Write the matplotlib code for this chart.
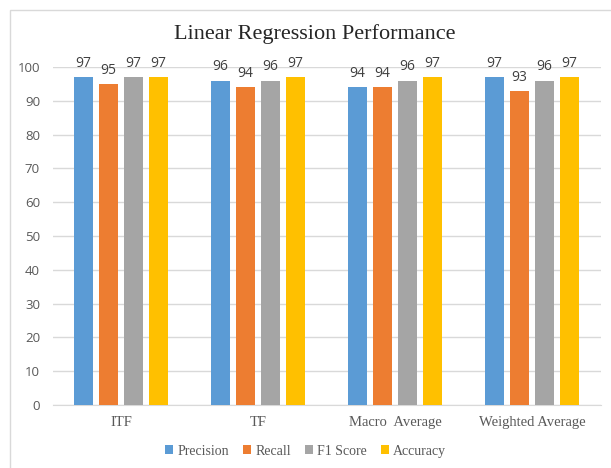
import matplotlib.pyplot as plt
import numpy as np
from matplotlib.patches import Rectangle


# =====================================================================================================================


CATEGORIES = ["ITF", "TF", "Macro  Average", "Weighted Average"]
METRICS = ["Precision", "Recall", "F1 Score", "Accuracy"]
PRECISION = [97, 96, 94, 97]
RECALL = [95, 94, 94, 93]
F1_SCORE = [97, 96, 96, 96]
ACCURACY = [97, 97, 97, 97]
COLORS = ["#5B9BD5", "#ED7D31", "#A5A5A5", "#FFC000"]
Y_TICKS = list(range(0, 101, 10))


# =====================================================================================================================


fig = plt.figure(figsize=(6.11, 4.68), dpi=100)
ax = fig.add_axes([0.086, 0.1346, 0.897, 0.7222])

# outer chart frame
fig.patches.append(Rectangle((10 / 611, -0.1), 1.2, 1 - 10 / 468 + 0.1, transform=fig.transFigure,
                             fill=False, edgecolor="#D9D9D9", linewidth=1.0))

x = np.arange(len(CATEGORIES))
width = 0.139
pitch = 0.1825
series = [PRECISION, RECALL, F1_SCORE, ACCURACY]
for i, (name, vals, color) in enumerate(zip(METRICS, series, COLORS)):
    pos = x + (i - 1.5) * pitch
    bars = ax.bar(pos, vals, width, color=color, label=name, zorder=3)
    for b, v in zip(bars, vals):
        ax.text(b.get_x() + b.get_width() / 2, v + 1.8, str(v), ha="center", va="bottom",
                fontsize=10, color="#404040", family="Open Sans", clip_on=False)

ax.set_xlim(-0.5, len(CATEGORIES) - 0.5)
ax.set_ylim(0, 100)
ax.set_yticks(Y_TICKS)
ax.set_yticklabels([str(t) for t in Y_TICKS], family="Open Sans", fontsize=9.5, color="#595959")
ax.set_xticks(x)
ax.set_xticklabels(CATEGORIES, family="Liberation Serif", fontsize=10.5, color="#595959")
ax.tick_params(axis="both", length=0)
ax.tick_params(axis="y", pad=9)
ax.tick_params(axis="x", pad=8)
ax.grid(axis="y", color="#D9D9D9", linewidth=1.0, zorder=0)
for s in ["top", "right", "left"]:
    ax.spines[s].set_visible(False)
ax.spines["bottom"].set_color("#D9D9D9")

fig.text(0.515, 0.927, "Linear Regression Performance", ha="center", va="center",
         family="Liberation Serif", fontsize=16, color="#262626")

fig.legend(loc="center", bbox_to_anchor=(0.5, 0.036), ncol=4, frameon=False,
           prop={"family": "Liberation Serif", "size": 10}, handlelength=0.6, handleheight=0.6,
           handletextpad=0.3, columnspacing=1.0, labelcolor="#595959")

plt.savefig("out.png", dpi=100)
